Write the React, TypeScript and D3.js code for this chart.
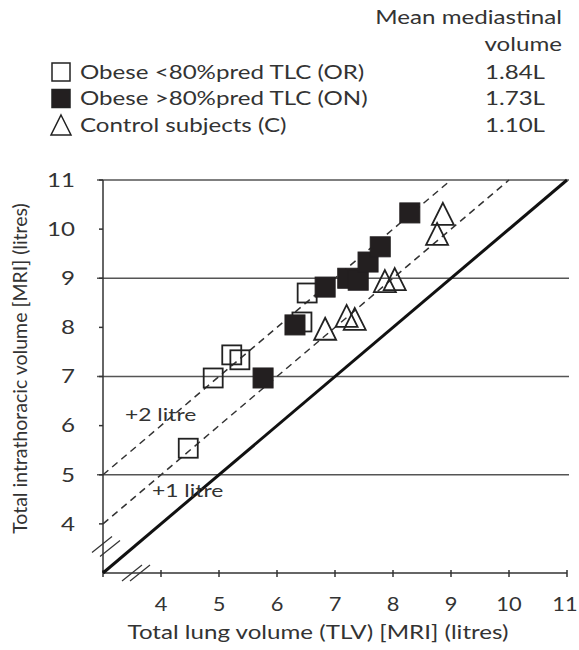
import React, { useRef, useEffect } from "react";
import * as d3 from "d3";

// Obese <80% predicted TLC (OR) - open squares [TLV, intrathoracic volume]
const obeseRestricted: [number, number][] = [
  [4.47, 5.54],
  [4.9, 6.97],
  [5.22, 7.44],
  [5.36, 7.34],
  [6.43, 8.11],
  [6.52, 8.7],
];

// Obese >80% predicted TLC (ON) - filled squares
const obeseNormal: [number, number][] = [
  [5.76, 6.97],
  [6.31, 8.05],
  [6.83, 8.82],
  [7.22, 9.0],
  [7.4, 8.96],
  [7.57, 9.33],
  [7.78, 9.64],
  [8.29, 10.33],
];

// Control subjects (C) - open triangles
const controls: [number, number][] = [
  [6.83, 7.95],
  [7.2, 8.21],
  [7.34, 8.15],
  [7.86, 8.92],
  [8.03, 8.96],
  [8.76, 9.88],
  [8.86, 10.29],
];

const xTicks = [4, 5, 6, 7, 8, 9, 10, 11];
const yTicks = [4, 5, 6, 7, 8, 9, 10, 11];
const gridValues = [5, 7, 9, 11];
const offsets = [1, 2];

const legendItems = [
  { label: "Obese <80%pred TLC (OR)", value: "1.84L", shape: "open" },
  { label: "Obese >80%pred TLC (ON)", value: "1.73L", shape: "filled" },
  { label: "Control subjects (C)", value: "1.10L", shape: "triangle" },
];

const FONT = "Lato, 'Open Sans', sans-serif";
const TEXT = "#333";
// the source figure is stretched horizontally, so horizontal text is widened
const SX = 1.27;

export default function App() {
  const svgRef = useRef<SVGSVGElement>(null);

  useEffect(() => {
    if (!svgRef.current) return;
    const svg = d3.select(svgRef.current);
    svg.selectAll("*").remove();

    const width = 579;
    const height = 650;
    svg.attr("width", width).attr("height", height);

    const x = d3.scaleLinear().domain([3, 11]).range([103, 567]);
    const y = d3.scaleLinear().domain([3, 11]).range([573, 180]);

    const g = svg.append("g").style("font-family", FONT);

    const label = (tx: number, ty: number, s: string | number, anchor = "start", size = 19, dy = "0", sx = SX) =>
      g.append("text")
        .attr("transform", `translate(${tx},${ty}) scale(${sx},1)`)
        .attr("dy", dy)
        .attr("text-anchor", anchor)
        .style("font-size", `${size}px`)
        .style("fill", TEXT)
        .text(s);

    // horizontal grid lines
    gridValues.forEach((v) => {
      g.append("line")
        .attr("x1", x(3) - 6)
        .attr("x2", x(11) + 2)
        .attr("y1", y(v))
        .attr("y2", y(v))
        .attr("stroke", "#555")
        .attr("stroke-width", 1.5);
    });

    // y axis
    g.append("line")
      .attr("x1", x(3)).attr("x2", x(3))
      .attr("y1", y(11)).attr("y2", y(3))
      .attr("stroke", "#333").attr("stroke-width", 1.5);
    yTicks.forEach((t) => {
      g.append("line")
        .attr("x1", x(3) - 4).attr("x2", x(3))
        .attr("y1", y(t)).attr("y2", y(t))
        .attr("stroke", "#333").attr("stroke-width", 1.5);
      label(x(3) - 28, y(t), t, "end", 19, "0.36em");
    });

    // x axis
    g.append("line")
      .attr("x1", x(3)).attr("x2", x(11))
      .attr("y1", y(3)).attr("y2", y(3))
      .attr("stroke", "#333").attr("stroke-width", 1.5);
    [3, ...xTicks].forEach((t) => {
      g.append("line")
        .attr("x1", x(t)).attr("x2", x(t))
        .attr("y1", y(3) - 3).attr("y2", y(3) + 4)
        .attr("stroke", "#333").attr("stroke-width", 1.5);
    });
    xTicks.forEach((t) => {
      label(x(t) - (t === 11 ? 2 : 0), y(3) + 38, t, "middle", 19, "0", 1.15);
    });

    // axis breaks
    const yb = y(3.6);
    [[-11, 9], [-3, 11]].forEach(([dx, dy], i) => {
      g.append("line")
        .attr("x1", x(3) + dx).attr("y1", yb + dy + i * 2)
        .attr("x2", x(3) + dx + 20).attr("y2", yb + dy - 16 + i * 2)
        .attr("stroke", "#333").attr("stroke-width", 1.3);
    });
    const xb = x(3.5);
    [0, 8].forEach((dx) => {
      g.append("line")
        .attr("x1", xb + dx - 10).attr("y1", y(3) + 8)
        .attr("x2", xb + dx + 10).attr("y2", y(3) - 8)
        .attr("stroke", "#333").attr("stroke-width", 1.3);
    });

    // identity line
    g.append("line")
      .attr("x1", x(3)).attr("y1", y(3))
      .attr("x2", x(11)).attr("y2", y(11))
      .attr("stroke", "#111").attr("stroke-width", 3);

    // +1 / +2 litre dashed lines
    offsets.forEach((o) => {
      g.append("line")
        .attr("x1", x(3)).attr("y1", y(3 + o))
        .attr("x2", x(11 - o)).attr("y2", y(11))
        .attr("stroke", "#333").attr("stroke-width", 1.5)
        .attr("stroke-dasharray", "7,5");
    });

    label(125, 421, "+2 litre", "start", 18);
    label(152, 497, "+1 litre", "start", 18);

    const sq = 19;
    const triPath = (cx: number, cy: number, s: number) =>
      `M${cx},${cy - s * 0.55}L${cx + s / 2},${cy + s * 0.45}L${cx - s / 2},${cy + s * 0.45}Z`;

    // open squares
    g.selectAll(".or")
      .data(obeseRestricted)
      .join("rect")
      .attr("x", (d) => x(d[0]) - sq / 2)
      .attr("y", (d) => y(d[1]) - sq / 2)
      .attr("width", sq).attr("height", sq)
      .attr("fill", "none")
      .attr("stroke", "#222").attr("stroke-width", 1.8);

    // controls
    g.selectAll(".c")
      .data(controls)
      .join("path")
      .attr("d", (d) => triPath(x(d[0]), y(d[1]), 22))
      .attr("fill", "none")
      .attr("stroke", "#222").attr("stroke-width", 1.8);

    // filled squares
    g.selectAll(".on")
      .data(obeseNormal)
      .join("rect")
      .attr("x", (d) => x(d[0]) - 10)
      .attr("y", (d) => y(d[1]) - 10)
      .attr("width", 20).attr("height", 20)
      .attr("fill", "#231f20")
      .attr("stroke", "#231f20").attr("stroke-width", 1);

    // axis titles
    label(318, 639, "Total lung volume (TLV) [MRI] (litres)", "middle");
    g.append("text")
      .attr("transform", `translate(27,${(y(3) + y(11)) / 2 - 8}) rotate(-90)`)
      .attr("text-anchor", "middle")
      .style("font-size", "19.5px").style("fill", TEXT)
      .text("Total intrathoracic volume [MRI]  (litres)");

    // legend
    label(562, 24, "Mean mediastinal", "end");
    label(562, 51, "volume", "end");

    legendItems.forEach((item, i) => {
      const cy = 72 + i * 26.5;
      if (item.shape === "triangle") {
        g.append("path")
          .attr("d", triPath(61, cy + 1, 20))
          .attr("fill", "none").attr("stroke", "#222").attr("stroke-width", 1.5);
      } else {
        g.append("rect")
          .attr("x", 52).attr("y", cy - 9)
          .attr("width", 18).attr("height", 18)
          .attr("fill", item.shape === "filled" ? "#231f20" : "none")
          .attr("stroke", "#222").attr("stroke-width", 1.5);
      }
      label(80, cy, item.label, "start", 19, "0.36em");
      label(545, cy, item.value, "end", 19, "0.36em");
    });
  }, []);

  return (
    <div style={{ position: "absolute", left: 0, top: 0, background: "#fff" }}>
      <svg ref={svgRef} style={{ display: "block" }} />
    </div>
  );
}
